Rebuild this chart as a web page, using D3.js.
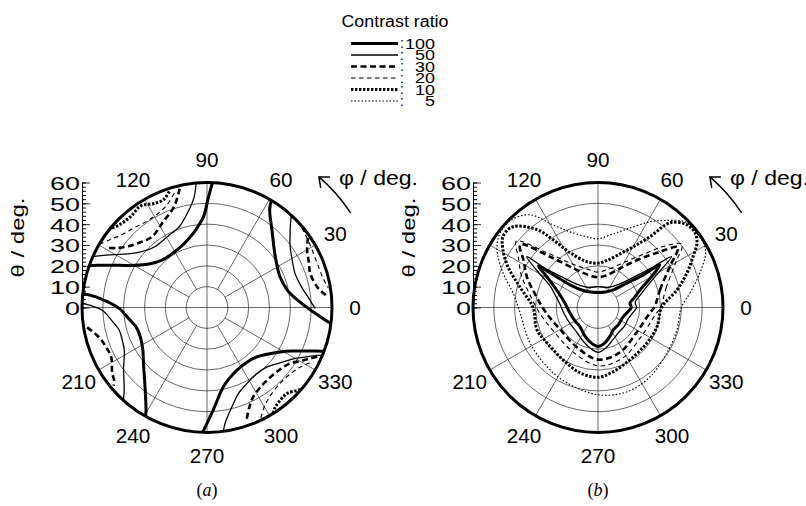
<!DOCTYPE html>
<html>
<head>
<meta charset="utf-8">
<script src="https://cdn.jsdelivr.net/npm/d3@7"></script>
<style>
  body { margin: 0; background: #fff; }
  text { font-family: "Liberation Sans", Arial, Helvetica, sans-serif; fill: #000; }
</style>
</head>
<body>
<svg id="canvas" width="806" height="506"></svg>
<script>
// contour levels (legend order)
const levels = [100, 50, 30, 20, 10, 5];
const phiLabels = [0, 30, 60, 90, 120, 210, 240, 270, 300, 330];
const spokeAngles = d3.range(0, 360, 30);
const ringValues = [10, 20, 30, 40, 50];
const thetaMajor = [0, 10, 20, 30, 40, 50, 60];
const thetaMinor = d3.range(0, 61, 2);

// panel (a): open contour pieces, [phi, theta] in degrees
const a100 = [
  [[87.5,60],[89.5,52],[92,44],[100,36.5],[110,32.5],[122,30.8],[134,31.5],[145,36],[152,43],[156,50],[159,56.5],[160.5,60]],
  [[59,60],[57.5,56],[50,48.5],[37,41],[23,38],[12,39.5],[7,42],[0,48],[-3,52],[-7.5,60]],
  [[173.5,60],[175,52],[180.7,42],[188,38],[195.3,35.3],[204,35],[213.7,37],[222,41],[229.4,46],[235,51.5],[239.4,57.5],[240.5,60]],
  [[268,60],[273.3,49.6],[281.4,39],[288,35.5],[295,33.4],[305,32.5],[315,33.6],[322,36.5],[328.6,41],[333,46],[336.4,52.3],[339.2,59],[339.5,60]]
];
const a50 = [
  [[95,60],[96.8,53],[102,46],[109,41],[119,39],[131,38.5],[140,41.5],[146,46],[150.5,51.5],[154.5,57.5],[156,60]],
  [[47.5,60],[46.5,58.5],[40,52],[36.3,49.5],[28,46.5],[21.2,45.3],[12,46.5],[7.1,48.3],[2,50.5],[-0.5,52]],
  [[178,60],[179,56],[181.5,50.3],[188,46],[194.5,43.5],[200,43.5],[207.4,44.7],[216,49.5],[225.1,56.3],[228,60]],
  [[277.5,60],[279,56],[285.2,48],[290,44],[297.4,41.3],[306,39.8],[315,40.5],[322,43.5],[329.3,48.2],[333,52.5],[336.4,57.5],[337.5,60]]
];
const a30 = [
  [[103,58.5],[108,51],[117.7,46],[127.7,43],[136.3,45],[143,48.5],[146.7,52],[149,55.5]],
  [[34.6,58.9],[29.9,55.4],[24,53.5],[18.5,52.2],[10.5,53.8],[7.1,56.2],[5,58.5]],
  [[189.4,58.3],[195.5,53.7],[201.6,52],[207.5,51.8],[214.8,55.4],[218.2,56.7],[220,58.5]],
  [[289.7,56.7],[293,52],[297,48.5],[304,46],[312,45.2],[320,46],[326,48],[330,51.5],[333.7,55.2],[336,58]]
];
const a20 = [
  [[106,57],[112,52.5],[118.6,50.7],[125,50.5],[132.4,51.8],[140,54],[145.3,57],[149,59.5]],
  [[40,59.5],[32,58],[22,57],[14,57.5],[9,59]],
  [[296,59],[300,55],[306,52],[315,50.5],[323,51.5],[329,54],[333,57.5]]
];
const a10 = [
  [[108,58.5],[112,55.8],[117,56],[123,58.2],[130,57],[136.7,57.8],[141,60]],
  [[302,59.8],[304.2,58.1],[308,56.8],[312.9,56.4],[317.3,58.8],[319,60]]
];

// panel (b): closed contours, [phi, theta] in degrees
const b100 = [[0,16],[7.7,15.5],[15,18],[22.8,21.9],[30,29.7],[34.5,36],[35.8,26.8],[40.3,18],[49,11.2],[65,8.2],[90,7.2],[115,8.2],[130.8,10.8],[141,17.3],[143.8,26.6],[145.1,34.9],[148.9,28.8],[156.9,21.6],[165,18],[172.5,16],[191,13.7],[210,12.8],[226.5,12.6],[245,15],[260,17.5],[270,18.7],[280,17.5],[295,14.5],[304,13],[320,12.8],[340,12.9],[352,14.5]];
const b50 = [[0,18.5],[8,18],[15,20.5],[22,24.5],[29,32],[34.7,43],[36.5,32],[40,23],[47,15.5],[62,11],[90,10],[118,11],[133,15.5],[140,23],[143.5,32],[144.5,42],[149,34],[156,25],[165,21],[174,18.5],[191,16.5],[210,15.5],[227,15.5],[245,17.5],[260,20],[270,21.5],[280,20],[295,17],[310,15.5],[325,15.5],[340,15.5],[352,17]];
const b30 = [[0,27],[16,31],[30,40],[37,48],[42,40],[50,30],[60,22],[75,16],[90,14.5],[105,16],[120,21],[133,33],[141,48],[148,42],[157,37],[170,30],[186,25],[210,21],[241,21.5],[270,25],[296,24],[326,22],[354,25]];
const b20 = [[0,30],[16,34],[30,43],[37,50.5],[43,43],[50,33],[60,25],[75,19],[90,17],[105,19],[120,24],[133,36],[141,50.5],[148,45],[157,40],[170,33],[186,28],[210,24],[241,24.5],[270,28],[296,27],[326,25],[354,28]];
const b10 = [[0,30.5],[12.6,38.9],[21.3,45.9],[28.1,51.7],[33.2,56.8],[37.6,58.8],[42.9,58.3],[49.6,53.4],[53.7,42.1],[60,33.6],[70,26.5],[80,22.8],[90,21.3],[103.5,22.6],[117,29.5],[123.6,39],[128,47.4],[136.5,56.3],[143,57],[148.7,53.4],[155.7,47.4],[165,39],[180,31.2],[200,31.2],[214.7,29.8],[236.2,30.2],[254.6,32.5],[270,33.5],[283,31.7],[301.5,29.4],[324.2,29],[341.9,29.8]];
const b5 = [[0,40],[9,44.7],[18.8,51.7],[28,58.5],[37,59.5],[44.6,58.6],[52,53],[58.8,48.1],[70,40],[80,35.5],[90,33],[98.8,34.3],[110.3,38.7],[118.6,45.2],[126.3,55.2],[135,59.2],[143,59],[150.3,55.8],[160,48.5],[170.2,41.4],[183.9,37.5],[207.4,36.8],[229.3,37.5],[247.6,39.1],[270,41.9],[289,42.8],[306.9,41.6],[326.7,39.6],[344,39.4]];

const styles = {
  100: { w: 3, dash: null },
  50: { w: 1.3, dash: null },
  30: { w: 2.6, dash: '6,3.5' },
  20: { w: 1.1, dash: '4.5,3.5' },
  10: { w: 3, dash: '2.4,1.6' },
  5: { w: 1.2, dash: '1.5,2' }
};

const R = 125;
const rad = (d) => d * Math.PI / 180;
let svg = d3.select('#canvas');
svg.append('rect').attr('width', 806).attr('height', 506).attr('fill', '#fff');

function drawPanel(cx, cy, contours, closed, id, caption) {
  let g = svg.append('g').attr('transform', `translate(${cx},${cy})`);
  let r = d3.scaleLinear().domain([0, 60]).range([0, R]);

  g.append('clipPath').attr('id', 'clip-' + id)
    .append('circle').attr('r', r(60));

  g.selectAll('circle.ring')
    .data(ringValues)
    .enter()
    .append('circle')
    .attr('class', 'ring')
    .attr('r', (d) => r(d))
    .attr('fill', 'none')
    .attr('stroke', '#000')
    .attr('stroke-width', 0.6);

  g.selectAll('line.spoke')
    .data(spokeAngles)
    .enter()
    .append('line')
    .attr('class', 'spoke')
    .attr('x1', (d) => (d % 90 === 0 ? 0 : r(10)) * Math.cos(rad(d)))
    .attr('y1', (d) => -(d % 90 === 0 ? 0 : r(10)) * Math.sin(rad(d)))
    .attr('x2', (d) => r(60) * Math.cos(rad(d)))
    .attr('y2', (d) => -r(60) * Math.sin(rad(d)))
    .attr('stroke', '#000')
    .attr('stroke-width', 0.6);

  let line = d3.lineRadial()
    .angle((d) => rad(90 - d[0]))
    .radius((d) => r(d[1]))
    .curve(closed ? d3.curveCatmullRomClosed.alpha(0.5) : d3.curveCatmullRom.alpha(0.5));

  let cg = g.append('g').attr('clip-path', `url(#clip-${id})`);
  levels.forEach((lev) => {
    let pieces = contours[lev] || [];
    cg.selectAll(null)
      .data(pieces)
      .enter()
      .append('path')
      .attr('d', line)
      .attr('fill', 'none')
      .attr('stroke', '#000')
      .attr('stroke-width', styles[lev].w)
      .attr('stroke-dasharray', styles[lev].dash);
  });

  g.append('circle')
    .attr('r', r(60))
    .attr('fill', 'none')
    .attr('stroke', '#000')
    .attr('stroke-width', 3);

  // theta axis
  let y = d3.scaleLinear().domain([0, 60]).range([0, -R]);
  g.append('g')
    .attr('transform', `translate(${-R},0)`)
    .call(d3.axisLeft(y).tickValues(thetaMinor).tickSize(-4).tickSizeOuter(0).tickFormat(''))
    .call((a) => a.select('.domain').remove());
  let ax = g.append('g')
    .attr('transform', `translate(${-R},0)`)
    .call(d3.axisLeft(y).tickValues(thetaMajor).tickSize(-8).tickSizeOuter(0).tickPadding(2));
  ax.selectAll('text')
    .attr('font-size', 19)
    .attr('font-family', '"Liberation Sans", Arial, sans-serif')
    .attr('dy', '0.36em')
    .attr('textLength', (d) => String(d).length * 15)
    .attr('lengthAdjust', 'spacingAndGlyphs');
  ax.selectAll('line').attr('stroke-width', 0.8);
  ax.select('.domain').attr('stroke-width', 1);

  g.append('text')
    .attr('transform', `translate(${-R - 58},${-70}) rotate(-90)`)
    .attr('text-anchor', 'middle')
    .attr('font-size', 19)
    .attr('textLength', 80)
    .attr('lengthAdjust', 'spacingAndGlyphs')
    .text('θ / deg.');

  // phi labels
  g.selectAll('text.phi')
    .data(phiLabels)
    .enter()
    .append('text')
    .attr('class', 'phi')
    .attr('x', (d) => 148 * Math.cos(rad(d)))
    .attr('y', (d) => -148 * Math.sin(rad(d)))
    .attr('dy', '0.36em')
    .attr('text-anchor', 'middle')
    .attr('font-size', 20)
    .attr('textLength', (d) => String(d).length * 11.5)
    .attr('lengthAdjust', 'spacingAndGlyphs')
    .text((d) => d);

  // phi arrow
  let ar = 172, a0 = 33.4, a1 = 49.4;
  let p = d3.path();
  p.arc(0, 0, ar, rad(-a0), rad(-a1), true);
  g.append('path').attr('d', p.toString()).attr('fill', 'none')
    .attr('stroke', '#000').attr('stroke-width', 1.5);
  let tx = ar * Math.cos(rad(a1)), ty = -ar * Math.sin(rad(a1));
  let back = [Math.sin(rad(a1)), Math.cos(rad(a1))];
  let head = [40, -40].map((s) => {
    let c = Math.cos(rad(s)), sn = Math.sin(rad(s));
    return [tx + 11 * (back[0] * c - back[1] * sn), ty + 11 * (back[0] * sn + back[1] * c)];
  });
  g.append('path')
    .attr('d', d3.line()([head[0], [tx, ty], head[1]]))
    .attr('fill', 'none').attr('stroke', '#000').attr('stroke-width', 1.5);
  g.append('text')
    .attr('x', 132).attr('y', -123)
    .attr('font-size', 20)
    .attr('textLength', 79)
    .attr('lengthAdjust', 'spacingAndGlyphs')
    .text('φ / deg.');

  let cap = g.append('text')
    .attr('x', 0).attr('y', 188)
    .attr('text-anchor', 'middle')
    .attr('font-size', 18)
    .style('font-family', '"Liberation Serif", "Times New Roman", serif');
  cap.append('tspan').text('(');
  cap.append('tspan').attr('font-style', 'italic').text(caption);
  cap.append('tspan').text(')');
}

drawPanel(207, 307.5, { 100: a100, 50: a50, 30: a30, 20: a20, 10: a10 }, false, 'a', 'a');
drawPanel(598, 307.5, { 100: [b100], 50: [b50], 30: [b30], 20: [b20], 10: [b10], 5: [b5] }, true, 'b', 'b');

// legend
let lg = svg.append('g');
lg.append('text').attr('x', 395).attr('y', 27).attr('text-anchor', 'middle')
  .attr('font-size', 16)
  .attr('textLength', 107)
  .attr('lengthAdjust', 'spacingAndGlyphs')
  .text('Contrast ratio');
let rowY = d3.scalePoint().domain(levels).range([43.5, 101]);
let rows = lg.selectAll('g.row').data(levels).enter().append('g')
  .attr('transform', (d) => `translate(0,${rowY(d)})`);
rows.append('line')
  .attr('x1', 351).attr('x2', 398)
  .attr('stroke', '#000')
  .attr('stroke-width', (d) => styles[d].w)
  .attr('stroke-dasharray', (d) => styles[d].dash);
rows.append('text').attr('x', 400).attr('dy', '0.33em').attr('font-size', 14).text(':');
rows.append('text').attr('x', 435).attr('dy', '0.36em').attr('text-anchor', 'end')
  .attr('font-size', 14)
  .attr('textLength', (d) => String(d).length * 10)
  .attr('lengthAdjust', 'spacingAndGlyphs')
  .text((d) => d);
</script>
</body>
</html>
